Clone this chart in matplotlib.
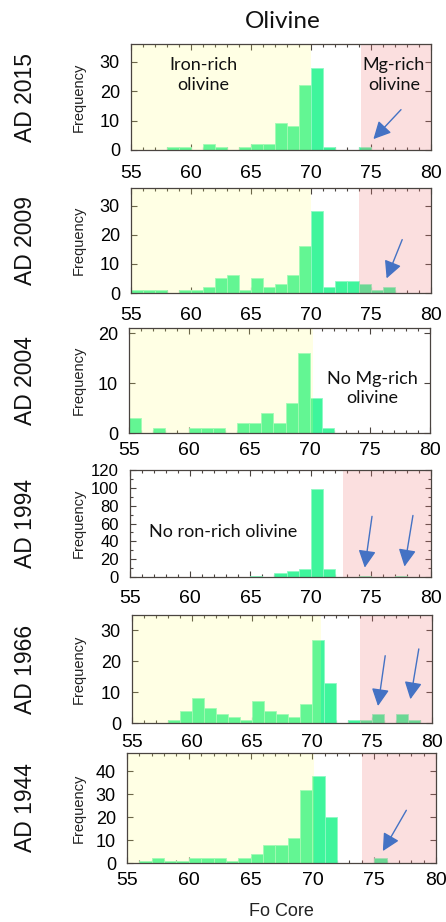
import matplotlib
matplotlib.use("Agg")
import matplotlib.pyplot as plt
from matplotlib.ticker import MultipleLocator

# Fo core histogram, 1-unit bins starting at Fo 55
bin_left = list(range(55, 80))

years = ["AD 2015", "AD 2009", "AD 2004", "AD 1994", "AD 1966", "AD 1944"]

counts_2015 = [0, 0, 0, 1, 1, 0, 2, 1, 0, 1, 2, 2, 9, 8, 22, 28, 1, 0, 0, 1, 0, 0, 0, 0, 0]
counts_2009 = [1, 1, 1, 0, 1, 1, 2, 5, 6, 1, 5, 2, 3, 6, 16, 28, 2, 4, 4, 3, 1, 2, 0, 0, 0]
counts_2004 = [3, 0, 1, 0, 0, 1, 1, 1, 0, 2, 2, 4, 2, 6, 16, 7, 1, 0, 0, 0, 0, 0, 0, 0, 0]
counts_1994 = [0, 0, 0, 0, 0, 0, 0, 0, 0, 0, 1, 0, 4, 7, 9, 99, 9, 0, 0, 1, 0, 0, 1, 0, 0]
counts_1966 = [0, 0, 0, 1, 4, 8, 5, 3, 2, 1, 7, 4, 3, 2, 6, 27, 13, 0, 1, 1, 3, 0, 3, 1, 0]
counts_1944 = [0, 1, 2, 1, 1, 2, 2, 2, 1, 2, 4, 8, 8, 11, 32, 38, 20, 0, 0, 0, 2, 0, 0, 0, 0]
all_counts = [counts_2015, counts_2009, counts_2004, counts_1994, counts_1966, counts_1944]

y_max = [36, 36, 21, 120, 35, 48]
y_major = [10, 10, 10, 20, 10, 10]

# shaded compositional fields (Fo ranges); None = not shown
iron_rich = [(55, 70), (55, 70), (55, 70.25), None, (55, 70.75), (55, 70.1)]
mg_rich = [(74.2, 80), (74.0, 80), None, (72.7, 80), (74.0, 80), (74.0, 80)]

# arrows pointing at Mg-rich grains: (tail, head) in data coords
arrows = [
    [((77.5, 13.7), (75.2, 3.7))],
    [((77.6, 18.3), (76.3, 5.0))],
    [],
    [((75.1, 68), (74.5, 10.5)), ((78.5, 69), (77.8, 11.7))],
    [((76.1, 21.8), (75.5, 5.5)), ((78.9, 24), (78.2, 7.7))],
    [((77.6, 23), (75.7, 5.2))],
]

# panel notes: (text, x, y)
notes = [
    [("Iron-rich\nolivine", 61.0, 25.5), ("Mg-rich\nolivine", 76.9, 25.5)],
    [],
    [("No Mg-rich\nolivine", 75.2, 8.9)],
    [("No ron-rich olivine", 62.7, 51)],
    [],
    [],
]

# axes boxes in pixels: left, top, right, bottom
boxes = [
    (131, 44, 431, 150),
    (131, 188, 431, 293),
    (129, 328, 430, 433),
    (130, 470, 431, 577),
    (132, 615, 432, 723),
    (127, 753, 436, 863),
]
# gap between x axis and its tick labels, points
x_pads = [10.5, 10, 6.5, 9.5, 8, 6.5]

W, H = 446, 922
fig = plt.figure(figsize=(W / 100, H / 100), dpi=100)

bar_color = "#3ff59c"
edge_color = "#8ff9c4"
frame_color = "#4a4440"
arrow_color = "#4472c4"
sans = ["Liberation Sans", "DejaVu Sans"]
hum = ["Lato", "DejaVu Sans"]

for i, counts in enumerate(all_counts):
    l, t, r, b = boxes[i]
    ax = fig.add_axes([l / W, 1 - b / H, (r - l) / W, (b - t) / H])
    ax.bar(bin_left, counts, width=1.0, align="edge", color=bar_color,
           edgecolor=edge_color, linewidth=0.6, zorder=2)
    if iron_rich[i]:
        ax.axvspan(*iron_rich[i], color="#ffff70", alpha=0.19, lw=0, zorder=3)
    if mg_rich[i]:
        ax.axvspan(*mg_rich[i], color="#f08080", alpha=0.25, lw=0, zorder=3)

    ax.set_xlim(55, 80)
    ax.set_ylim(0, y_max[i])
    ax.xaxis.set_major_locator(MultipleLocator(5))
    ax.xaxis.set_minor_locator(MultipleLocator(1))
    ax.yaxis.set_major_locator(MultipleLocator(y_major[i]))
    if i == 3:
        ax.yaxis.set_minor_locator(MultipleLocator(10))
    ax.tick_params(which="both", direction="in", top=True, right=True,
                   color=frame_color, width=0.8)
    ax.tick_params(which="major", length=4)
    ax.tick_params(which="minor", length=2.5)
    ax.tick_params(axis="x", labelsize=14, pad=x_pads[i])
    ax.tick_params(axis="y", labelsize=12 if i == 3 else 13, pad=8)
    for lab in ax.get_xticklabels() + ax.get_yticklabels():
        lab.set_fontfamily(sans)
    for s in ax.spines.values():
        s.set_color(frame_color)
        s.set_linewidth(0.9)
        s.set_zorder(5)

    ax.set_ylabel("Frequency", fontsize=10.5, family=sans, color="#222222")
    ax.yaxis.set_label_coords(-(l - 86) / (r - l), 0.5)

    for (tx, ty), (hx, hy) in arrows[i]:
        ax.annotate("", xy=(hx, hy), xytext=(tx, ty), zorder=6,
                    arrowprops=dict(arrowstyle="-|>,head_length=0.75,head_width=0.38",
                                    color=arrow_color, lw=1.0,
                                    mutation_scale=14, shrinkA=0, shrinkB=0))
    for txt, x, y in notes[i]:
        ax.text(x, y, txt, ha="center", va="center", fontsize=13,
                family=hum, linespacing=1.3, color="#111111", zorder=6)

    yc = 1 - (t + b) / 2 / H
    fig.text(26 / W, yc, years[i], rotation=90, ha="center", va="center",
             fontsize=16.5, family=sans, color="#111111")

fig.text(283 / W, 1 - 21 / H, "Olivine", ha="center", va="center",
         fontsize=17.5, family=hum, color="#111111")
fig.text(281 / W, 1 - 911 / H, "Fo Core", ha="center", va="center",
         fontsize=13, family=sans, color="#222222")

fig.savefig("out.png", dpi=100)
